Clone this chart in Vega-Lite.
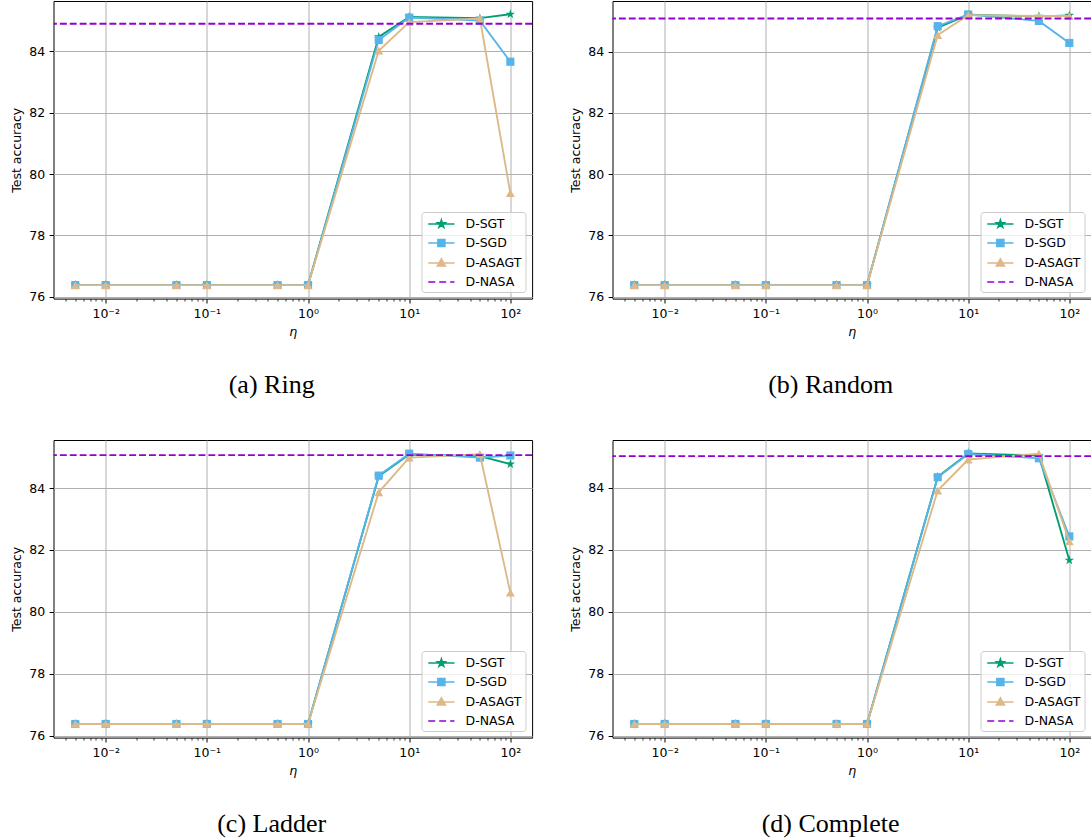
{
"$schema": "https://vega.github.io/schema/vega-lite/v6.json",
"padding": {"left": 9.5, "top": 0, "right": 0, "bottom": 0},
"datasets": {"d": [
{"g":"a","m":"D-SGT","eta":0.005,"acc":76.38},{"g":"a","m":"D-SGT","eta":0.01,"acc":76.38},{"g":"a","m":"D-SGT","eta":0.05,"acc":76.38},{"g":"a","m":"D-SGT","eta":0.1,"acc":76.38},{"g":"a","m":"D-SGT","eta":0.5,"acc":76.38},{"g":"a","m":"D-SGT","eta":1,"acc":76.38},{"g":"a","m":"D-SGT","eta":5,"acc":84.47},{"g":"a","m":"D-SGT","eta":10,"acc":85.12},{"g":"a","m":"D-SGT","eta":50,"acc":85.08},{"g":"a","m":"D-SGT","eta":100,"acc":85.21},
{"g":"a","m":"D-SGD","eta":0.005,"acc":76.38},{"g":"a","m":"D-SGD","eta":0.01,"acc":76.38},{"g":"a","m":"D-SGD","eta":0.05,"acc":76.38},{"g":"a","m":"D-SGD","eta":0.1,"acc":76.38},{"g":"a","m":"D-SGD","eta":0.5,"acc":76.38},{"g":"a","m":"D-SGD","eta":1,"acc":76.38},{"g":"a","m":"D-SGD","eta":5,"acc":84.37},{"g":"a","m":"D-SGD","eta":10,"acc":85.10},{"g":"a","m":"D-SGD","eta":50,"acc":85.00},{"g":"a","m":"D-SGD","eta":100,"acc":83.66},
{"g":"a","m":"D-ASAGT","eta":0.005,"acc":76.38},{"g":"a","m":"D-ASAGT","eta":0.01,"acc":76.38},{"g":"a","m":"D-ASAGT","eta":0.05,"acc":76.38},{"g":"a","m":"D-ASAGT","eta":0.1,"acc":76.38},{"g":"a","m":"D-ASAGT","eta":0.5,"acc":76.38},{"g":"a","m":"D-ASAGT","eta":1,"acc":76.38},{"g":"a","m":"D-ASAGT","eta":5,"acc":84.02},{"g":"a","m":"D-ASAGT","eta":10,"acc":84.95},{"g":"a","m":"D-ASAGT","eta":50,"acc":85.07},{"g":"a","m":"D-ASAGT","eta":100,"acc":79.38},
{"g":"a","m":"D-NASA","acc":84.90},
{"g":"b","m":"D-SGT","eta":0.005,"acc":76.38},{"g":"b","m":"D-SGT","eta":0.01,"acc":76.38},{"g":"b","m":"D-SGT","eta":0.05,"acc":76.38},{"g":"b","m":"D-SGT","eta":0.1,"acc":76.38},{"g":"b","m":"D-SGT","eta":0.5,"acc":76.38},{"g":"b","m":"D-SGT","eta":1,"acc":76.38},{"g":"b","m":"D-SGT","eta":5,"acc":84.78},{"g":"b","m":"D-SGT","eta":10,"acc":85.20},{"g":"b","m":"D-SGT","eta":50,"acc":85.15},{"g":"b","m":"D-SGT","eta":100,"acc":85.18},
{"g":"b","m":"D-SGD","eta":0.005,"acc":76.38},{"g":"b","m":"D-SGD","eta":0.01,"acc":76.38},{"g":"b","m":"D-SGD","eta":0.05,"acc":76.38},{"g":"b","m":"D-SGD","eta":0.1,"acc":76.38},{"g":"b","m":"D-SGD","eta":0.5,"acc":76.38},{"g":"b","m":"D-SGD","eta":1,"acc":76.38},{"g":"b","m":"D-SGD","eta":5,"acc":84.83},{"g":"b","m":"D-SGD","eta":10,"acc":85.21},{"g":"b","m":"D-SGD","eta":50,"acc":85.00},{"g":"b","m":"D-SGD","eta":100,"acc":84.28},
{"g":"b","m":"D-ASAGT","eta":0.005,"acc":76.38},{"g":"b","m":"D-ASAGT","eta":0.01,"acc":76.38},{"g":"b","m":"D-ASAGT","eta":0.05,"acc":76.38},{"g":"b","m":"D-ASAGT","eta":0.1,"acc":76.38},{"g":"b","m":"D-ASAGT","eta":0.5,"acc":76.38},{"g":"b","m":"D-ASAGT","eta":1,"acc":76.38},{"g":"b","m":"D-ASAGT","eta":5,"acc":84.54},{"g":"b","m":"D-ASAGT","eta":10,"acc":85.19},{"g":"b","m":"D-ASAGT","eta":50,"acc":85.16},{"g":"b","m":"D-ASAGT","eta":100,"acc":85.16},
{"g":"b","m":"D-NASA","acc":85.08},
{"g":"c","m":"D-SGT","eta":0.005,"acc":76.38},{"g":"c","m":"D-SGT","eta":0.01,"acc":76.38},{"g":"c","m":"D-SGT","eta":0.05,"acc":76.38},{"g":"c","m":"D-SGT","eta":0.1,"acc":76.38},{"g":"c","m":"D-SGT","eta":0.5,"acc":76.38},{"g":"c","m":"D-SGT","eta":1,"acc":76.38},{"g":"c","m":"D-SGT","eta":5,"acc":84.38},{"g":"c","m":"D-SGT","eta":10,"acc":85.08},{"g":"c","m":"D-SGT","eta":50,"acc":85.03},{"g":"c","m":"D-SGT","eta":100,"acc":84.77},
{"g":"c","m":"D-SGD","eta":0.005,"acc":76.38},{"g":"c","m":"D-SGD","eta":0.01,"acc":76.38},{"g":"c","m":"D-SGD","eta":0.05,"acc":76.38},{"g":"c","m":"D-SGD","eta":0.1,"acc":76.38},{"g":"c","m":"D-SGD","eta":0.5,"acc":76.38},{"g":"c","m":"D-SGD","eta":1,"acc":76.38},{"g":"c","m":"D-SGD","eta":5,"acc":84.40},{"g":"c","m":"D-SGD","eta":10,"acc":85.11},{"g":"c","m":"D-SGD","eta":50,"acc":84.98},{"g":"c","m":"D-SGD","eta":100,"acc":85.05},
{"g":"c","m":"D-ASAGT","eta":0.005,"acc":76.38},{"g":"c","m":"D-ASAGT","eta":0.01,"acc":76.38},{"g":"c","m":"D-ASAGT","eta":0.05,"acc":76.38},{"g":"c","m":"D-ASAGT","eta":0.1,"acc":76.38},{"g":"c","m":"D-ASAGT","eta":0.5,"acc":76.38},{"g":"c","m":"D-ASAGT","eta":1,"acc":76.38},{"g":"c","m":"D-ASAGT","eta":5,"acc":83.86},{"g":"c","m":"D-ASAGT","eta":10,"acc":84.98},{"g":"c","m":"D-ASAGT","eta":50,"acc":85.09},{"g":"c","m":"D-ASAGT","eta":100,"acc":80.62},
{"g":"c","m":"D-NASA","acc":85.06},
{"g":"d","m":"D-SGT","eta":0.005,"acc":76.38},{"g":"d","m":"D-SGT","eta":0.01,"acc":76.38},{"g":"d","m":"D-SGT","eta":0.05,"acc":76.38},{"g":"d","m":"D-SGT","eta":0.1,"acc":76.38},{"g":"d","m":"D-SGT","eta":0.5,"acc":76.38},{"g":"d","m":"D-SGT","eta":1,"acc":76.38},{"g":"d","m":"D-SGT","eta":5,"acc":84.35},{"g":"d","m":"D-SGT","eta":10,"acc":85.11},{"g":"d","m":"D-SGT","eta":50,"acc":85.04},{"g":"d","m":"D-SGT","eta":100,"acc":81.66},
{"g":"d","m":"D-SGD","eta":0.005,"acc":76.38},{"g":"d","m":"D-SGD","eta":0.01,"acc":76.38},{"g":"d","m":"D-SGD","eta":0.05,"acc":76.38},{"g":"d","m":"D-SGD","eta":0.1,"acc":76.38},{"g":"d","m":"D-SGD","eta":0.5,"acc":76.38},{"g":"d","m":"D-SGD","eta":1,"acc":76.38},{"g":"d","m":"D-SGD","eta":5,"acc":84.34},{"g":"d","m":"D-SGD","eta":10,"acc":85.09},{"g":"d","m":"D-SGD","eta":50,"acc":84.95},{"g":"d","m":"D-SGD","eta":100,"acc":82.43},
{"g":"d","m":"D-ASAGT","eta":0.005,"acc":76.38},{"g":"d","m":"D-ASAGT","eta":0.01,"acc":76.38},{"g":"d","m":"D-ASAGT","eta":0.05,"acc":76.38},{"g":"d","m":"D-ASAGT","eta":0.1,"acc":76.38},{"g":"d","m":"D-ASAGT","eta":0.5,"acc":76.38},{"g":"d","m":"D-ASAGT","eta":1,"acc":76.38},{"g":"d","m":"D-ASAGT","eta":5,"acc":83.91},{"g":"d","m":"D-ASAGT","eta":10,"acc":84.91},{"g":"d","m":"D-ASAGT","eta":50,"acc":85.10},{"g":"d","m":"D-ASAGT","eta":100,"acc":82.27},
{"g":"d","m":"D-NASA","acc":85.02}
]},
"columns": 2,
"spacing": {"row": 40, "column": 34},
"resolve": {"scale": {"fill": "independent", "stroke": "independent", "shape": "independent"}, "legend": {"fill": "independent", "stroke": "independent", "shape": "independent"}},
"concat": [
{"width": 478.6, "height": 297.6, "data": {"name": "d"},
 "title": {"text": "(a) Ring"},
 "transform": [{"filter": "datum.g == 'a'"}],
 "resolve": {"axis": {"x": "independent"}},
 "layer": [
  {"transform": [{"filter": "datum.m == 'D-SGT'"}], "mark": {"type": "line", "strokeWidth": 1.875, "color": "#009E73"},
   "encoding": {"x": {"field": "eta", "type": "quantitative", "scale": {"type": "log", "domain": [0.003048, 164.1], "nice": false}, "axis": {"values": [0.01, 0.1, 1, 10, 100], "labelExpr": "datum.value < 0.05 ? '10\u207b\u00b2' : datum.value < 0.5 ? '10\u207b\u00b9' : datum.value < 5 ? '10\u2070' : datum.value < 50 ? '10\u00b9' : '10\u00b2'", "grid": true, "title": "\u03b7", "titleFontStyle": "italic"}},
    "y": {"field": "acc", "type": "quantitative", "scale": {"domain": [75.94, 85.64], "nice": false, "zero": false}, "axis": {"values": [76, 78, 80, 82, 84], "grid": true, "title": "Test accuracy"}}}},
  {"transform": [{"filter": "datum.m == 'D-SGT'"}], "mark": {"type": "point", "shape": "M0,-1L0.2245,-0.309L0.9511,-0.309L0.3633,0.118L0.5878,0.809L0,0.382L-0.5878,0.809L-0.3633,0.118L-0.9511,-0.309L-0.2245,-0.309Z", "filled": true, "size": 100, "opacity": 1, "color": "#009E73"},
   "encoding": {"x": {"field": "eta", "type": "quantitative", "scale": {"type": "log", "domain": [0.003048, 164.1], "nice": false}, "axis": {"orient": "bottom", "values": [0.004, 0.005, 0.006, 0.007, 0.008, 0.009, 0.02, 0.03, 0.04, 0.05, 0.06, 0.07, 0.08, 0.09, 0.2, 0.3, 0.4, 0.5, 0.6, 0.7, 0.8, 0.9, 2, 3, 4, 5, 6, 7, 8, 9, 20, 30, 40, 50, 60, 70, 80, 90], "labels": false, "grid": false, "tickSize": 2.5, "tickWidth": 0.75, "title": null}},
    "y": {"field": "acc", "type": "quantitative"}}},
  {"transform": [{"filter": "datum.m == 'D-SGD'"}], "mark": {"type": "line", "strokeWidth": 1.875, "color": "#56B4E9"},
   "encoding": {"x": {"field": "eta", "type": "quantitative", "scale": {"type": "log", "domain": [0.003048, 164.1], "nice": false}, "axis": null}, "y": {"field": "acc", "type": "quantitative"}}},
  {"transform": [{"filter": "datum.m == 'D-SGD'"}], "mark": {"type": "point", "shape": "square", "filled": true, "size": 66, "opacity": 1, "color": "#56B4E9"},
   "encoding": {"x": {"field": "eta", "type": "quantitative", "scale": {"type": "log", "domain": [0.003048, 164.1], "nice": false}, "axis": null}, "y": {"field": "acc", "type": "quantitative"}}},
  {"transform": [{"filter": "datum.m == 'D-ASAGT'"}], "mark": {"type": "line", "strokeWidth": 1.875, "color": "#DEB887"},
   "encoding": {"x": {"field": "eta", "type": "quantitative", "scale": {"type": "log", "domain": [0.003048, 164.1], "nice": false}, "axis": null}, "y": {"field": "acc", "type": "quantitative"}}},
  {"transform": [{"filter": "datum.m == 'D-ASAGT'"}], "mark": {"type": "point", "shape": "triangle-up", "filled": true, "size": 80, "opacity": 1, "color": "#DEB887"},
   "encoding": {"x": {"field": "eta", "type": "quantitative", "scale": {"type": "log", "domain": [0.003048, 164.1], "nice": false}, "axis": null}, "y": {"field": "acc", "type": "quantitative"}}},
  {"transform": [{"filter": "datum.m == 'D-NASA'"}], "mark": {"type": "rule", "strokeWidth": 1.875, "strokeDash": [6.9, 3], "color": "#9400D3"},
   "encoding": {"y": {"field": "acc", "type": "quantitative"}}},
  {"transform": [{"filter": "datum.m == 'none'"}], "mark": {"type": "point", "filled": true},
   "encoding": {
    "fill": {"field": "m", "type": "nominal", "title": null, "scale": {"domain": ["D-SGT", "D-SGD", "D-ASAGT", "D-NASA"], "range": ["#009E73", "#56B4E9", "#DEB887", "#9400D3"]}},
    "stroke": {"field": "m", "type": "nominal", "title": null, "scale": {"domain": ["D-SGT", "D-SGD", "D-ASAGT", "D-NASA"], "range": ["#009E73", "#56B4E9", "#DEB887", "#9400D3"]}},
    "shape": {"field": "m", "type": "nominal", "title": null, "scale": {"domain": ["D-SGT", "D-SGD", "D-ASAGT", "D-NASA"], "range": ["M-0.7,0L2.8,0M1.05,-0.533L1.17,-0.165L1.557,-0.165L1.244,0.063L1.363,0.431L1.05,0.204L0.737,0.431L0.856,0.063L0.543,-0.165L0.93,-0.165Z", "M-0.7,0L2.8,0M0.583,-0.467L1.517,-0.467L1.517,0.467L0.583,0.467Z", "M-0.7,0L2.8,0M1.05,-0.55L1.583,0.4L0.517,0.4Z", "M-0.7,0L0.23,0M0.76,0L1.69,0M2.22,0L2.8,0"]}}}}
 ]},
{"width": 478.6, "height": 297.6, "data": {"name": "d"},
 "title": {"text": "(b) Random"},
 "transform": [{"filter": "datum.g == 'b'"}],
 "resolve": {"axis": {"x": "independent"}},
 "layer": [
  {"transform": [{"filter": "datum.m == 'D-SGT'"}], "mark": {"type": "line", "strokeWidth": 1.875, "color": "#009E73"},
   "encoding": {"x": {"field": "eta", "type": "quantitative", "scale": {"type": "log", "domain": [0.003048, 164.1], "nice": false}, "axis": {"values": [0.01, 0.1, 1, 10, 100], "labelExpr": "datum.value < 0.05 ? '10\u207b\u00b2' : datum.value < 0.5 ? '10\u207b\u00b9' : datum.value < 5 ? '10\u2070' : datum.value < 50 ? '10\u00b9' : '10\u00b2'", "grid": true, "title": "\u03b7", "titleFontStyle": "italic"}},
    "y": {"field": "acc", "type": "quantitative", "scale": {"domain": [75.94, 85.65], "nice": false, "zero": false}, "axis": {"values": [76, 78, 80, 82, 84], "grid": true, "title": "Test accuracy"}}}},
  {"transform": [{"filter": "datum.m == 'D-SGT'"}], "mark": {"type": "point", "shape": "M0,-1L0.2245,-0.309L0.9511,-0.309L0.3633,0.118L0.5878,0.809L0,0.382L-0.5878,0.809L-0.3633,0.118L-0.9511,-0.309L-0.2245,-0.309Z", "filled": true, "size": 100, "opacity": 1, "color": "#009E73"},
   "encoding": {"x": {"field": "eta", "type": "quantitative", "scale": {"type": "log", "domain": [0.003048, 164.1], "nice": false}, "axis": {"orient": "bottom", "values": [0.004, 0.005, 0.006, 0.007, 0.008, 0.009, 0.02, 0.03, 0.04, 0.05, 0.06, 0.07, 0.08, 0.09, 0.2, 0.3, 0.4, 0.5, 0.6, 0.7, 0.8, 0.9, 2, 3, 4, 5, 6, 7, 8, 9, 20, 30, 40, 50, 60, 70, 80, 90], "labels": false, "grid": false, "tickSize": 2.5, "tickWidth": 0.75, "title": null}},
    "y": {"field": "acc", "type": "quantitative"}}},
  {"transform": [{"filter": "datum.m == 'D-SGD'"}], "mark": {"type": "line", "strokeWidth": 1.875, "color": "#56B4E9"},
   "encoding": {"x": {"field": "eta", "type": "quantitative", "scale": {"type": "log", "domain": [0.003048, 164.1], "nice": false}, "axis": null}, "y": {"field": "acc", "type": "quantitative"}}},
  {"transform": [{"filter": "datum.m == 'D-SGD'"}], "mark": {"type": "point", "shape": "square", "filled": true, "size": 66, "opacity": 1, "color": "#56B4E9"},
   "encoding": {"x": {"field": "eta", "type": "quantitative", "scale": {"type": "log", "domain": [0.003048, 164.1], "nice": false}, "axis": null}, "y": {"field": "acc", "type": "quantitative"}}},
  {"transform": [{"filter": "datum.m == 'D-ASAGT'"}], "mark": {"type": "line", "strokeWidth": 1.875, "color": "#DEB887"},
   "encoding": {"x": {"field": "eta", "type": "quantitative", "scale": {"type": "log", "domain": [0.003048, 164.1], "nice": false}, "axis": null}, "y": {"field": "acc", "type": "quantitative"}}},
  {"transform": [{"filter": "datum.m == 'D-ASAGT'"}], "mark": {"type": "point", "shape": "triangle-up", "filled": true, "size": 80, "opacity": 1, "color": "#DEB887"},
   "encoding": {"x": {"field": "eta", "type": "quantitative", "scale": {"type": "log", "domain": [0.003048, 164.1], "nice": false}, "axis": null}, "y": {"field": "acc", "type": "quantitative"}}},
  {"transform": [{"filter": "datum.m == 'D-NASA'"}], "mark": {"type": "rule", "strokeWidth": 1.875, "strokeDash": [6.9, 3], "color": "#9400D3"},
   "encoding": {"y": {"field": "acc", "type": "quantitative"}}},
  {"transform": [{"filter": "datum.m == 'none'"}], "mark": {"type": "point", "filled": true},
   "encoding": {
    "fill": {"field": "m", "type": "nominal", "title": null, "scale": {"domain": ["D-SGT", "D-SGD", "D-ASAGT", "D-NASA"], "range": ["#009E73", "#56B4E9", "#DEB887", "#9400D3"]}},
    "stroke": {"field": "m", "type": "nominal", "title": null, "scale": {"domain": ["D-SGT", "D-SGD", "D-ASAGT", "D-NASA"], "range": ["#009E73", "#56B4E9", "#DEB887", "#9400D3"]}},
    "shape": {"field": "m", "type": "nominal", "title": null, "scale": {"domain": ["D-SGT", "D-SGD", "D-ASAGT", "D-NASA"], "range": ["M-0.7,0L2.8,0M1.05,-0.533L1.17,-0.165L1.557,-0.165L1.244,0.063L1.363,0.431L1.05,0.204L0.737,0.431L0.856,0.063L0.543,-0.165L0.93,-0.165Z", "M-0.7,0L2.8,0M0.583,-0.467L1.517,-0.467L1.517,0.467L0.583,0.467Z", "M-0.7,0L2.8,0M1.05,-0.55L1.583,0.4L0.517,0.4Z", "M-0.7,0L0.23,0M0.76,0L1.69,0M2.22,0L2.8,0"]}}}}
 ]},
{"width": 478.6, "height": 297.6, "data": {"name": "d"},
 "title": {"text": "(c) Ladder"},
 "transform": [{"filter": "datum.g == 'c'"}],
 "resolve": {"axis": {"x": "independent"}},
 "layer": [
  {"transform": [{"filter": "datum.m == 'D-SGT'"}], "mark": {"type": "line", "strokeWidth": 1.875, "color": "#009E73"},
   "encoding": {"x": {"field": "eta", "type": "quantitative", "scale": {"type": "log", "domain": [0.003048, 164.1], "nice": false}, "axis": {"values": [0.01, 0.1, 1, 10, 100], "labelExpr": "datum.value < 0.05 ? '10\u207b\u00b2' : datum.value < 0.5 ? '10\u207b\u00b9' : datum.value < 5 ? '10\u2070' : datum.value < 50 ? '10\u00b9' : '10\u00b2'", "grid": true, "title": "\u03b7", "titleFontStyle": "italic"}},
    "y": {"field": "acc", "type": "quantitative", "scale": {"domain": [75.94, 85.55], "nice": false, "zero": false}, "axis": {"values": [76, 78, 80, 82, 84], "grid": true, "title": "Test accuracy"}}}},
  {"transform": [{"filter": "datum.m == 'D-SGT'"}], "mark": {"type": "point", "shape": "M0,-1L0.2245,-0.309L0.9511,-0.309L0.3633,0.118L0.5878,0.809L0,0.382L-0.5878,0.809L-0.3633,0.118L-0.9511,-0.309L-0.2245,-0.309Z", "filled": true, "size": 100, "opacity": 1, "color": "#009E73"},
   "encoding": {"x": {"field": "eta", "type": "quantitative", "scale": {"type": "log", "domain": [0.003048, 164.1], "nice": false}, "axis": {"orient": "bottom", "values": [0.004, 0.005, 0.006, 0.007, 0.008, 0.009, 0.02, 0.03, 0.04, 0.05, 0.06, 0.07, 0.08, 0.09, 0.2, 0.3, 0.4, 0.5, 0.6, 0.7, 0.8, 0.9, 2, 3, 4, 5, 6, 7, 8, 9, 20, 30, 40, 50, 60, 70, 80, 90], "labels": false, "grid": false, "tickSize": 2.5, "tickWidth": 0.75, "title": null}},
    "y": {"field": "acc", "type": "quantitative"}}},
  {"transform": [{"filter": "datum.m == 'D-SGD'"}], "mark": {"type": "line", "strokeWidth": 1.875, "color": "#56B4E9"},
   "encoding": {"x": {"field": "eta", "type": "quantitative", "scale": {"type": "log", "domain": [0.003048, 164.1], "nice": false}, "axis": null}, "y": {"field": "acc", "type": "quantitative"}}},
  {"transform": [{"filter": "datum.m == 'D-SGD'"}], "mark": {"type": "point", "shape": "square", "filled": true, "size": 66, "opacity": 1, "color": "#56B4E9"},
   "encoding": {"x": {"field": "eta", "type": "quantitative", "scale": {"type": "log", "domain": [0.003048, 164.1], "nice": false}, "axis": null}, "y": {"field": "acc", "type": "quantitative"}}},
  {"transform": [{"filter": "datum.m == 'D-ASAGT'"}], "mark": {"type": "line", "strokeWidth": 1.875, "color": "#DEB887"},
   "encoding": {"x": {"field": "eta", "type": "quantitative", "scale": {"type": "log", "domain": [0.003048, 164.1], "nice": false}, "axis": null}, "y": {"field": "acc", "type": "quantitative"}}},
  {"transform": [{"filter": "datum.m == 'D-ASAGT'"}], "mark": {"type": "point", "shape": "triangle-up", "filled": true, "size": 80, "opacity": 1, "color": "#DEB887"},
   "encoding": {"x": {"field": "eta", "type": "quantitative", "scale": {"type": "log", "domain": [0.003048, 164.1], "nice": false}, "axis": null}, "y": {"field": "acc", "type": "quantitative"}}},
  {"transform": [{"filter": "datum.m == 'D-NASA'"}], "mark": {"type": "rule", "strokeWidth": 1.875, "strokeDash": [6.9, 3], "color": "#9400D3"},
   "encoding": {"y": {"field": "acc", "type": "quantitative"}}},
  {"transform": [{"filter": "datum.m == 'none'"}], "mark": {"type": "point", "filled": true},
   "encoding": {
    "fill": {"field": "m", "type": "nominal", "title": null, "scale": {"domain": ["D-SGT", "D-SGD", "D-ASAGT", "D-NASA"], "range": ["#009E73", "#56B4E9", "#DEB887", "#9400D3"]}},
    "stroke": {"field": "m", "type": "nominal", "title": null, "scale": {"domain": ["D-SGT", "D-SGD", "D-ASAGT", "D-NASA"], "range": ["#009E73", "#56B4E9", "#DEB887", "#9400D3"]}},
    "shape": {"field": "m", "type": "nominal", "title": null, "scale": {"domain": ["D-SGT", "D-SGD", "D-ASAGT", "D-NASA"], "range": ["M-0.7,0L2.8,0M1.05,-0.533L1.17,-0.165L1.557,-0.165L1.244,0.063L1.363,0.431L1.05,0.204L0.737,0.431L0.856,0.063L0.543,-0.165L0.93,-0.165Z", "M-0.7,0L2.8,0M0.583,-0.467L1.517,-0.467L1.517,0.467L0.583,0.467Z", "M-0.7,0L2.8,0M1.05,-0.55L1.583,0.4L0.517,0.4Z", "M-0.7,0L0.23,0M0.76,0L1.69,0M2.22,0L2.8,0"]}}}}
 ]},
{"width": 478.6, "height": 297.6, "data": {"name": "d"},
 "title": {"text": "(d) Complete"},
 "transform": [{"filter": "datum.g == 'd'"}],
 "resolve": {"axis": {"x": "independent"}},
 "layer": [
  {"transform": [{"filter": "datum.m == 'D-SGT'"}], "mark": {"type": "line", "strokeWidth": 1.875, "color": "#009E73"},
   "encoding": {"x": {"field": "eta", "type": "quantitative", "scale": {"type": "log", "domain": [0.003048, 164.1], "nice": false}, "axis": {"values": [0.01, 0.1, 1, 10, 100], "labelExpr": "datum.value < 0.05 ? '10\u207b\u00b2' : datum.value < 0.5 ? '10\u207b\u00b9' : datum.value < 5 ? '10\u2070' : datum.value < 50 ? '10\u00b9' : '10\u00b2'", "grid": true, "title": "\u03b7", "titleFontStyle": "italic"}},
    "y": {"field": "acc", "type": "quantitative", "scale": {"domain": [75.94, 85.54], "nice": false, "zero": false}, "axis": {"values": [76, 78, 80, 82, 84], "grid": true, "title": "Test accuracy"}}}},
  {"transform": [{"filter": "datum.m == 'D-SGT'"}], "mark": {"type": "point", "shape": "M0,-1L0.2245,-0.309L0.9511,-0.309L0.3633,0.118L0.5878,0.809L0,0.382L-0.5878,0.809L-0.3633,0.118L-0.9511,-0.309L-0.2245,-0.309Z", "filled": true, "size": 100, "opacity": 1, "color": "#009E73"},
   "encoding": {"x": {"field": "eta", "type": "quantitative", "scale": {"type": "log", "domain": [0.003048, 164.1], "nice": false}, "axis": {"orient": "bottom", "values": [0.004, 0.005, 0.006, 0.007, 0.008, 0.009, 0.02, 0.03, 0.04, 0.05, 0.06, 0.07, 0.08, 0.09, 0.2, 0.3, 0.4, 0.5, 0.6, 0.7, 0.8, 0.9, 2, 3, 4, 5, 6, 7, 8, 9, 20, 30, 40, 50, 60, 70, 80, 90], "labels": false, "grid": false, "tickSize": 2.5, "tickWidth": 0.75, "title": null}},
    "y": {"field": "acc", "type": "quantitative"}}},
  {"transform": [{"filter": "datum.m == 'D-SGD'"}], "mark": {"type": "line", "strokeWidth": 1.875, "color": "#56B4E9"},
   "encoding": {"x": {"field": "eta", "type": "quantitative", "scale": {"type": "log", "domain": [0.003048, 164.1], "nice": false}, "axis": null}, "y": {"field": "acc", "type": "quantitative"}}},
  {"transform": [{"filter": "datum.m == 'D-SGD'"}], "mark": {"type": "point", "shape": "square", "filled": true, "size": 66, "opacity": 1, "color": "#56B4E9"},
   "encoding": {"x": {"field": "eta", "type": "quantitative", "scale": {"type": "log", "domain": [0.003048, 164.1], "nice": false}, "axis": null}, "y": {"field": "acc", "type": "quantitative"}}},
  {"transform": [{"filter": "datum.m == 'D-ASAGT'"}], "mark": {"type": "line", "strokeWidth": 1.875, "color": "#DEB887"},
   "encoding": {"x": {"field": "eta", "type": "quantitative", "scale": {"type": "log", "domain": [0.003048, 164.1], "nice": false}, "axis": null}, "y": {"field": "acc", "type": "quantitative"}}},
  {"transform": [{"filter": "datum.m == 'D-ASAGT'"}], "mark": {"type": "point", "shape": "triangle-up", "filled": true, "size": 80, "opacity": 1, "color": "#DEB887"},
   "encoding": {"x": {"field": "eta", "type": "quantitative", "scale": {"type": "log", "domain": [0.003048, 164.1], "nice": false}, "axis": null}, "y": {"field": "acc", "type": "quantitative"}}},
  {"transform": [{"filter": "datum.m == 'D-NASA'"}], "mark": {"type": "rule", "strokeWidth": 1.875, "strokeDash": [6.9, 3], "color": "#9400D3"},
   "encoding": {"y": {"field": "acc", "type": "quantitative"}}},
  {"transform": [{"filter": "datum.m == 'none'"}], "mark": {"type": "point", "filled": true},
   "encoding": {
    "fill": {"field": "m", "type": "nominal", "title": null, "scale": {"domain": ["D-SGT", "D-SGD", "D-ASAGT", "D-NASA"], "range": ["#009E73", "#56B4E9", "#DEB887", "#9400D3"]}},
    "stroke": {"field": "m", "type": "nominal", "title": null, "scale": {"domain": ["D-SGT", "D-SGD", "D-ASAGT", "D-NASA"], "range": ["#009E73", "#56B4E9", "#DEB887", "#9400D3"]}},
    "shape": {"field": "m", "type": "nominal", "title": null, "scale": {"domain": ["D-SGT", "D-SGD", "D-ASAGT", "D-NASA"], "range": ["M-0.7,0L2.8,0M1.05,-0.533L1.17,-0.165L1.557,-0.165L1.244,0.063L1.363,0.431L1.05,0.204L0.737,0.431L0.856,0.063L0.543,-0.165L0.93,-0.165Z", "M-0.7,0L2.8,0M0.583,-0.467L1.517,-0.467L1.517,0.467L0.583,0.467Z", "M-0.7,0L2.8,0M1.05,-0.55L1.583,0.4L0.517,0.4Z", "M-0.7,0L0.23,0M0.76,0L1.69,0M2.22,0L2.8,0"]}}}}
 ]}
],
"config": {
 "view": {"stroke": "black", "strokeWidth": 1},
 "axis": {"labelFont": "DejaVu Sans", "labelFontSize": 12.5, "labelColor": "black", "titleFont": "DejaVu Sans", "titleFontSize": 12.5, "titleFontWeight": "normal", "titleColor": "black", "tickColor": "black", "tickSize": 4.4, "tickWidth": 1, "labelPadding": 4.4, "domain": false, "gridColor": "#b0b0b0", "gridWidth": 1, "titlePadding": 5.5},
 "legend": {"orient": "bottom-right", "offset": 6.25, "padding": 3.5, "symbolSize": 225, "symbolStrokeWidth": 1.6, "labelOffset": 23.5, "rowPadding": 4, "labelFont": "DejaVu Sans", "labelFontSize": 12.5, "labelColor": "black", "fillColor": "rgba(255,255,255,0.8)", "strokeColor": "#cccccc", "cornerRadius": 3, "symbolOpacity": 1, "labelLimit": 300},
 "title": {"orient": "bottom", "anchor": "middle", "frame": "bounds", "offset": 34, "font": "Liberation Serif", "fontSize": 26, "fontWeight": "normal", "color": "black"}
}
}
